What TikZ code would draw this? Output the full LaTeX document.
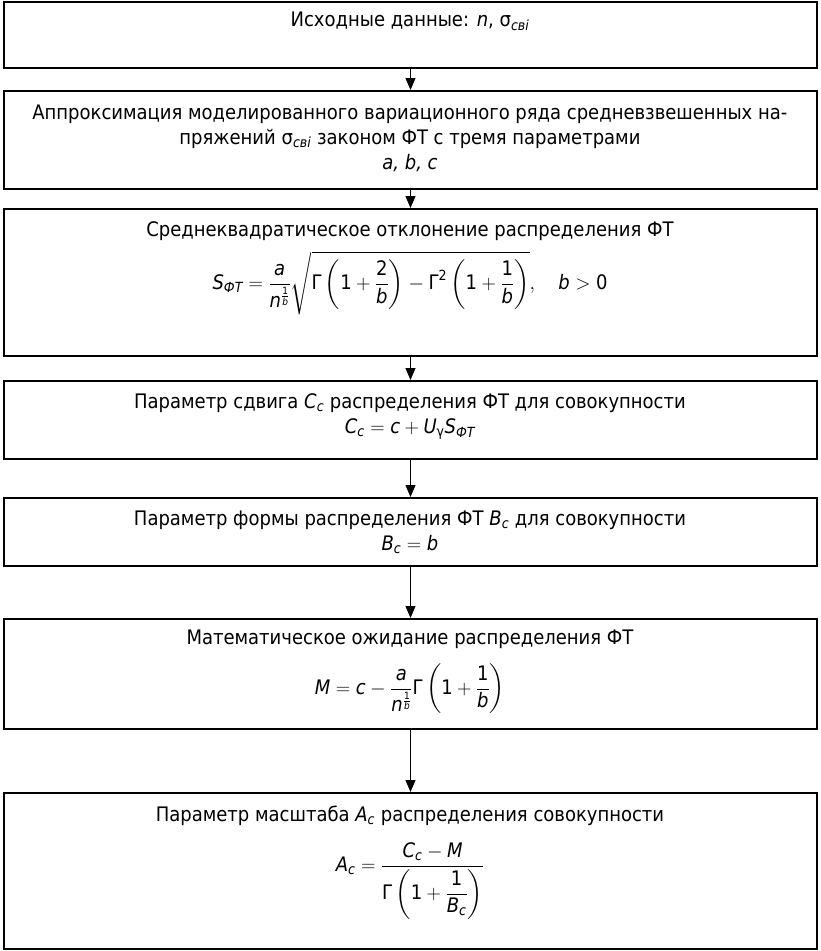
\RequirePackage{fix-cm}
\documentclass[tikz,border=0pt]{standalone}
\usepackage{amsmath}
\usepackage{fontspec}
\setmainfont{DejaVu Sans Condensed}
\usetikzlibrary{arrows.meta}
\newcommand\mi[1]{\textnormal{\itshape #1}}
\newcommand\mr[1]{\textnormal{#1}}
\begin{document}
\begin{tikzpicture}[x=1pt,y=-1pt,
  box/.style={draw, line width=2pt, minimum width=813pt, anchor=north west, inner sep=0pt},
  txt/.style={font=\fontsize{20}{25}\selectfont, align=center, inner sep=0pt},
  arr/.style={-{Triangle[length=12pt,width=10pt]}, line width=1pt}]
\useasboundingbox (0,0) rectangle (820,951);
\node[box, minimum height=66pt]  (b1) at (3,1) {};
\node[box, minimum height=98pt]  (b2) at (3,90) {};
\node[box, minimum height=147pt] (b3) at (3,208) {};
\node[box, minimum height=78pt]  (b4) at (3,380) {};
\node[box, minimum height=68pt]  (b5) at (3,497) {};
\node[box, minimum height=110pt] (b6) at (3,618) {};
\node[box, minimum height=156pt] (b7) at (3,792) {};
\foreach \a/\b in {b1/b2,b2/b3,b3/b4,b4/b5,b5/b6,b6/b7}
  \draw[arr] (\a.south) -- (\b.north);
\node[txt] (t1) at (410,21) {Исходные данные: \mi{n}, σ$_{\mi{свi}}$};
\node[txt] (t2) at (410,138) {Аппроксимация моделированного вариационного ряда средневзвешенных на-\\пряжений σ$_{\mi{свi}}$ законом ФТ с тремя параметрами\\\mi{a, b, c}};
\node[txt] (t3) at (410,231) {Среднеквадратическое отклонение распределения ФТ};
\node[txt] (f3) at (410,283) {$\mi{S}_{\mi{ФТ}} = \dfrac{\mi{a}}{\mi{n}^{\frac{\mr{1}}{\mi{b}}}}\sqrt{\mr{Γ}\left(\mr{1}+\dfrac{\mr{2}}{\mi{b}}\right)-\mr{Γ}^{\mr{2}}\left(\mr{1}+\dfrac{\mr{1}}{\mi{b}}\right)},\quad \mi{b}>\mr{0}$};
\node[txt] (t4) at (410,417) {Параметр сдвига $\mi{C}_{\mi{c}}$ распределения ФТ для совокупности\\$\mi{C}_{\mi{c}} = \mi{c}+\mi{U}_{\mr{γ}}\mi{S}_{\mi{ФТ}}$};
\node[txt] (t5) at (410,532) {Параметр формы распределения ФТ $\mi{B}_{\mi{c}}$ для совокупности\\$\mi{B}_{\mi{c}} = \mi{b}$};
\node[txt] (t6) at (410,639) {Математическое ожидание распределения ФТ};
\node[txt] (f6) at (410,689) {$\mi{M} = \mi{c} - \dfrac{\mi{a}}{\mi{n}^{\frac{\mr{1}}{\mi{b}}}}\mr{Γ}\left(\mr{1}+\dfrac{\mr{1}}{\mi{b}}\right)$};
\node[txt] (t7) at (410,816) {Параметр масштаба $\mi{A}_{\mi{c}}$ распределения совокупности};
\node[txt] (f7) at (410,881) {$\mi{A}_{\mi{c}} = \dfrac{\mi{C}_{\mi{c}}-\mi{M}}{\mr{Γ}\left(\mr{1}+\dfrac{\mr{1}}{\mi{B}_{\mi{c}}}\right)}$};
\end{tikzpicture}
\end{document}
